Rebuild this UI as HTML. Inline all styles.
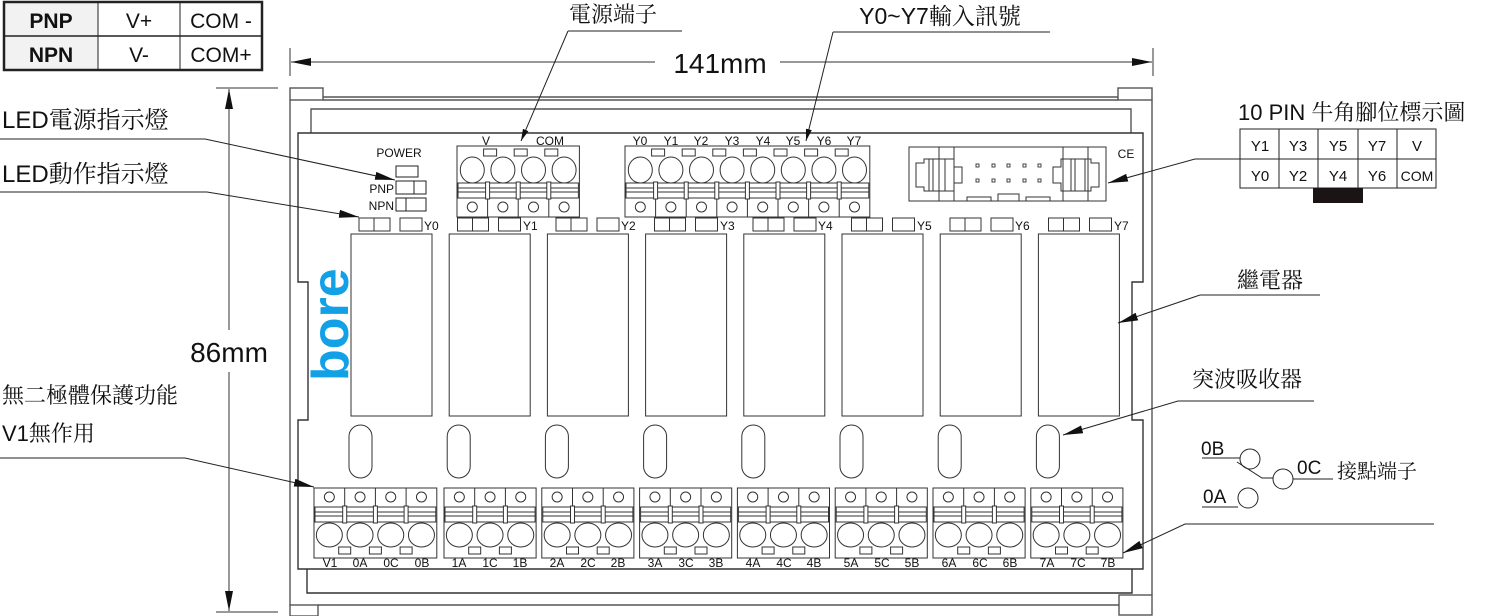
<!DOCTYPE html>
<html><head><meta charset="utf-8">
<style>
html,body{margin:0;padding:0;background:#fff;}
svg{display:block;}
text{font-family:"Liberation Sans","Noto Sans CJK TC",sans-serif;fill:#111;}
.cj{font-family:"Noto Serif CJK SC","Noto Sans CJK TC",serif;}
</style></head>
<body>
<svg id="s" width="1503" height="616" viewBox="0 0 1503 616" xmlns="http://www.w3.org/2000/svg">
<defs>
<marker id="ar" viewBox="0 0 12 6" refX="12" refY="3" markerWidth="12" markerHeight="6" orient="auto" markerUnits="userSpaceOnUse">
<path d="M0,0 L12,3 L0,6 Z" fill="#111"/></marker>
<marker id="ar2" viewBox="0 0 20 8" refX="20" refY="4" markerWidth="20" markerHeight="8" orient="auto" markerUnits="userSpaceOnUse">
<path d="M0,0 L20,4 L0,8 Z" fill="#111"/></marker>
</defs>

<!-- PNP/NPN table -->
<rect x="4" y="2" width="94" height="68" fill="#f2f2f2"/>
<rect x="4" y="2" width="258" height="68" fill="none" stroke="#222" stroke-width="2.5"/>
<line x1="4" y1="36" x2="262" y2="36" stroke="#222" stroke-width="1.5"/>
<line x1="98" y1="2" x2="98" y2="70" stroke="#222" stroke-width="1"/>
<line x1="180" y1="2" x2="180" y2="70" stroke="#222" stroke-width="1"/>
<text x="51" y="28" font-size="21" font-weight="bold" text-anchor="middle">PNP</text>
<text x="51" y="62" font-size="21" font-weight="bold" text-anchor="middle">NPN</text>
<text x="139" y="28" font-size="21" text-anchor="middle">V+</text>
<text x="139" y="62" font-size="21" text-anchor="middle">V-</text>
<text x="221" y="28" font-size="21" text-anchor="middle">COM -</text>
<text x="221" y="62" font-size="21" text-anchor="middle">COM+</text>

<!-- dimension 141mm -->
<line x1="290" y1="48" x2="290" y2="76" stroke="#333"/>
<line x1="1153" y1="48" x2="1153" y2="76" stroke="#333"/>
<line x1="655" y1="62" x2="291" y2="62" stroke="#333" marker-end="url(#ar2)"/>
<line x1="780" y1="62" x2="1152" y2="62" stroke="#333" marker-end="url(#ar2)"/>
<text x="720" y="73" font-size="28" text-anchor="middle">141mm</text>
<!-- dimension 86mm -->
<line x1="216" y1="88" x2="278" y2="88" stroke="#333"/>
<line x1="216" y1="612" x2="278" y2="612" stroke="#333"/>
<line x1="229" y1="330" x2="229" y2="89" stroke="#333" marker-end="url(#ar2)"/>
<line x1="229" y1="372" x2="229" y2="611" stroke="#333" marker-end="url(#ar2)"/>
<text x="229" y="362" font-size="28" text-anchor="middle">86mm</text>

<!-- frame -->
<g fill="none" stroke="#555" stroke-width="1.4">
<rect x="290" y="88" width="33" height="12"/>
<rect x="1118" y="88" width="34" height="12"/>
<line x1="323" y1="97" x2="1118" y2="97"/>
<line x1="323" y1="100" x2="1118" y2="100"/>
<line x1="290" y1="100" x2="290" y2="605"/>
<line x1="1152" y1="100" x2="1152" y2="595"/>
<polyline points="311,133 311,109 1131,109 1131,133"/>
<path d="M298,133 H1143 V282 H1132 V420 H1143 V569 H298 V420 H308 V282 H298 Z" stroke="#333"/>
<polyline points="307,569 307,593 1132,593 1132,569" stroke="#333"/>
<line x1="318" y1="605" x2="1119" y2="605"/>
<rect x="290" y="605" width="28" height="11"/>
<rect x="1119" y="595" width="33" height="20"/>
</g>

<!-- bore logo -->
<text transform="translate(348,381) rotate(-90)" font-size="52" style="fill:#12a0e6" font-weight="bold">bore</text>

<!-- power LEDs -->
<text x="399" y="157" font-size="12" text-anchor="middle">POWER</text>
<g fill="#fff" stroke="#222" stroke-width="1">
<rect x="396" y="166" width="22" height="11"/>
<rect x="396" y="181" width="30" height="13"/><line x1="414" y1="181" x2="414" y2="194"/>
<rect x="396" y="198" width="30" height="13"/><line x1="406" y1="198" x2="406" y2="211"/>
</g>
<text x="394" y="193" font-size="12" text-anchor="end">PNP</text>
<text x="394" y="210" font-size="12" text-anchor="end">NPN</text>

<!-- top terminal labels -->
<text x="486" y="145" font-size="12" text-anchor="middle">V</text>
<text x="550" y="145" font-size="12" text-anchor="middle">COM</text>
<text x="640" y="145" font-size="12" text-anchor="middle">Y0</text>
<text x="671" y="145" font-size="12" text-anchor="middle">Y1</text>
<text x="701" y="145" font-size="12" text-anchor="middle">Y2</text>
<text x="732" y="145" font-size="12" text-anchor="middle">Y3</text>
<text x="763" y="145" font-size="12" text-anchor="middle">Y4</text>
<text x="793" y="145" font-size="12" text-anchor="middle">Y5</text>
<text x="824" y="145" font-size="12" text-anchor="middle">Y6</text>
<text x="854" y="145" font-size="12" text-anchor="middle">Y7</text>

<!-- LED row labels -->
<text x="424" y="230" font-size="12">Y0</text>
<text x="523" y="230" font-size="12">Y1</text>
<text x="621" y="230" font-size="12">Y2</text>
<text x="720" y="230" font-size="12">Y3</text>
<text x="818" y="230" font-size="12">Y4</text>
<text x="917" y="230" font-size="12">Y5</text>
<text x="1015" y="230" font-size="12">Y6</text>
<text x="1114" y="230" font-size="12">Y7</text>

<!-- bottom labels -->
<g font-size="12" text-anchor="middle">
<text x="330" y="567">V1</text><text x="360" y="567">0A</text><text x="391" y="567">0C</text><text x="422" y="567">0B</text>
<text x="459" y="567">1A</text><text x="490" y="567">1C</text><text x="520" y="567">1B</text>
<text x="557" y="567">2A</text><text x="588" y="567">2C</text><text x="618" y="567">2B</text>
<text x="655" y="567">3A</text><text x="686" y="567">3C</text><text x="716" y="567">3B</text>
<text x="753" y="567">4A</text><text x="784" y="567">4C</text><text x="814" y="567">4B</text>
<text x="851" y="567">5A</text><text x="882" y="567">5C</text><text x="912" y="567">5B</text>
<text x="949" y="567">6A</text><text x="980" y="567">6C</text><text x="1010" y="567">6B</text>
<text x="1047" y="567">7A</text><text x="1078" y="567">7C</text><text x="1108" y="567">7B</text>
</g>

<!-- 10 pin connector -->
<g fill="none" stroke="#333" stroke-width="1">
<rect x="909" y="147" width="197" height="54"/>
<line x1="939" y1="147" x2="939" y2="201"/><line x1="954" y1="147" x2="954" y2="201"/>
<line x1="1063" y1="147" x2="1063" y2="201"/><line x1="1088" y1="147" x2="1088" y2="201"/>
<path d="M916,163 h8 v-4 h30 v8 h8 v16 h-8 v8 h-30 v-4 h-8 z"/>
<path d="M1099,163 h-8 v-4 h-30 v8 h-8 v16 h8 v8 h30 v-4 h8 z"/>
<line x1="929" y1="159" x2="929" y2="191"/><line x1="933" y1="159" x2="933" y2="191"/><line x1="945" y1="159" x2="945" y2="191"/>
<line x1="1071" y1="159" x2="1071" y2="191"/><line x1="1075" y1="159" x2="1075" y2="191"/><line x1="1085" y1="159" x2="1085" y2="191"/>
<rect x="967" y="197" width="24" height="4"/><rect x="998" y="194" width="21" height="7"/><rect x="1026" y="197" width="24" height="4"/>
</g>
<g fill="none" stroke="#333" stroke-width="0.9">
<rect x="976" y="164" width="3" height="3"/><rect x="992" y="164" width="3" height="3"/><rect x="1007" y="164" width="3" height="3"/><rect x="1023" y="164" width="3" height="3"/><rect x="1038" y="164" width="3" height="3"/>
<rect x="976" y="179" width="3" height="3"/><rect x="992" y="179" width="3" height="3"/><rect x="1007" y="179" width="3" height="3"/><rect x="1023" y="179" width="3" height="3"/><rect x="1038" y="179" width="3" height="3"/>
</g>
<text x="1126" y="158" font-size="12" text-anchor="middle">CE</text>

<g id="gen"></g>

<!-- top labels -->
<text class="cj" x="613" y="22" font-size="22" text-anchor="middle">電源端子</text>
<line x1="568" y1="31" x2="682" y2="31" stroke="#222"/>
<line x1="568" y1="31" x2="521" y2="141" stroke="#222" marker-end="url(#ar)"/>
<text x="940" y="24" font-size="23" text-anchor="middle">Y0~Y7<tspan class="cj">輸入訊號</tspan></text>
<line x1="833" y1="32" x2="1050" y2="32" stroke="#222"/>
<line x1="833" y1="32" x2="806" y2="141" stroke="#222" marker-end="url(#ar)"/>

<!-- left labels -->
<text x="2" y="128" font-size="24">LED<tspan class="cj">電源指示燈</tspan></text>
<polyline points="0,139 205,139 395,180" fill="none" stroke="#222" marker-end="url(#ar2)"/>
<text x="2" y="182" font-size="24">LED<tspan class="cj">動作指示燈</tspan></text>
<polyline points="0,192 207,192 359,217" fill="none" stroke="#222" marker-end="url(#ar2)"/>
<text class="cj" x="2" y="403" font-size="22">無二極體保護功能</text>
<text x="2" y="441" font-size="22">V1<tspan class="cj">無作用</tspan></text>
<polyline points="0,458 185,458 314,487" fill="none" stroke="#222" marker-end="url(#ar2)"/>

<!-- right labels -->
<text x="1238" y="120" font-size="22">10 PIN <tspan class="cj">牛角腳位標示圖</tspan></text>
<g fill="none" stroke="#222" stroke-width="1">
<rect x="1240" y="129" width="196" height="59"/>
<line x1="1240" y1="159" x2="1436" y2="159"/>
<line x1="1279" y1="129" x2="1279" y2="188"/><line x1="1318" y1="129" x2="1318" y2="188"/>
<line x1="1358" y1="129" x2="1358" y2="188"/><line x1="1397" y1="129" x2="1397" y2="188"/>
</g>
<rect x="1313" y="188" width="50" height="15" fill="#1a1414"/>
<g font-size="15" text-anchor="middle">
<text x="1260" y="151">Y1</text><text x="1298" y="151">Y3</text><text x="1338" y="151">Y5</text><text x="1377" y="151">Y7</text><text x="1417" y="151">V</text>
<text x="1260" y="181">Y0</text><text x="1298" y="181">Y2</text><text x="1338" y="181">Y4</text><text x="1377" y="181">Y6</text><text x="1417" y="181" font-size="14">COM</text>
</g>
<polyline points="1240,159 1195,159 1108,183" fill="none" stroke="#222" marker-end="url(#ar2)"/>

<text class="cj" x="1270" y="288" font-size="22" text-anchor="middle">繼電器</text>
<line x1="1200" y1="295" x2="1320" y2="295" stroke="#222"/>
<line x1="1200" y1="295" x2="1118" y2="323" stroke="#222" marker-end="url(#ar2)"/>
<text class="cj" x="1192" y="387" font-size="22">突波吸收器</text>
<polyline points="1314,401 1178,401 1063,435" fill="none" stroke="#222" marker-end="url(#ar2)"/>

<text x="1201" y="455" font-size="19">0B</text>
<line x1="1202" y1="458" x2="1240" y2="458" stroke="#222"/>
<circle cx="1250" cy="459" r="10" fill="none" stroke="#222"/>
<polyline points="1237,462 1262,478 1273,478" fill="none" stroke="#222"/>
<circle cx="1283" cy="479" r="10" fill="none" stroke="#222"/>
<line x1="1293" y1="479" x2="1333" y2="479" stroke="#222"/>
<text x="1297" y="474" font-size="19">0C</text>
<text class="cj" x="1337" y="478" font-size="20">接點端子</text>
<text x="1203" y="503" font-size="19">0A</text>
<line x1="1202" y1="507" x2="1238" y2="507" stroke="#222"/>
<circle cx="1248" cy="498" r="10" fill="none" stroke="#222"/>
<polyline points="1434,524 1185,524 1123,553" fill="none" stroke="#222" marker-end="url(#ar2)"/>
</svg>
<script>
(function(){
var g=document.getElementById('gen');var h='';
function R(x,y,w,hh,f){h+='<rect x="'+x+'" y="'+y+'" width="'+w+'" height="'+hh+'" fill="'+(f||'#fff')+'" stroke="#333" stroke-width="1"/>';}
function L(a,b,c,d){h+='<line x1="'+a+'" y1="'+b+'" x2="'+c+'" y2="'+d+'" stroke="#333" stroke-width="1"/>';}
function E(cx,cy,rx,ry){h+='<ellipse cx="'+cx+'" cy="'+cy+'" rx="'+rx+'" ry="'+ry+'" fill="#fff" stroke="#333" stroke-width="1"/>';}
var i,j;
for(i=0;i<8;i++){
 var rx=351+98.2*i;R(rx,234,81,182);
 var sx=349+98.2*i;h+='<rect x="'+sx+'" y="425" width="23" height="53" rx="11.5" fill="#fff" stroke="#333" stroke-width="1"/>';
 var lx=359+98.5*i;R(lx,218,31,13);L(lx+15,218,lx+15,231);R(lx+41,218,22,13);
}
function topBlock(x0,n){
 var p=30.6;R(x0,146,n*p,71);
 for(j=0;j<n;j++){var c=x0+p*j+p/2;E(c,170,12,13);
  R(x0+p*j+1,183,p-2,15);L(x0+p*j+1,188,x0+p*j+p-1,188);L(x0+p*j+1,192,x0+p*j+p-1,192);
  h+='<circle cx="'+c+'" cy="207" r="5" fill="#fff" stroke="#333"/>';
  if(j>0){var b=x0+p*j;L(b,198,b,217);R(b-2,182,4,17);R(b-4,149,13,7);}
 }
}
topBlock(457,4);topBlock(625,8);
function botBlock(x0,n){
 var p=30.7;R(x0,488,n*p,70);
 for(j=0;j<n;j++){var c=x0+p*j+p/2;
  h+='<circle cx="'+c+'" cy="497" r="5" fill="#fff" stroke="#333"/>';
  R(x0+p*j+1,507,p-2,15);L(x0+p*j+1,512,x0+p*j+p-1,512);L(x0+p*j+1,516,x0+p*j+p-1,516);
  E(c,535,13,12);
  if(j>0){var b=x0+p*j;L(b,488,b,507);R(b-2,506,4,17);R(b-6,547,12,7);}
 }
}
botBlock(314,4);
for(i=1;i<8;i++)botBlock(444+97.8*(i-1),3);
g.innerHTML=h;
})();
</script>
</body></html>
